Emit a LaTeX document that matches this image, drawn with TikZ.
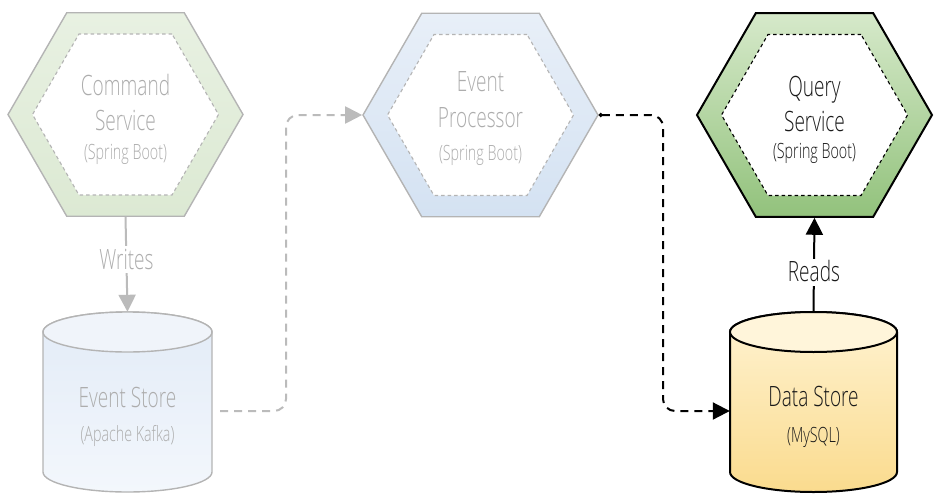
\documentclass[tikz,border=0pt]{standalone}
\usepackage{fontspec}
\IfFontExistsTF{Open Sans Light}{\setmainfont{Open Sans Light}[FakeStretch=0.68]}{\setmainfont{Open Sans}[FakeStretch=0.68]}
\usetikzlibrary{shapes.geometric,arrows.meta,calc}
\definecolor{lgray}{HTML}{B4B4B4}
\definecolor{tgray}{HTML}{ADADAD}
\definecolor{cgray}{HTML}{BBBBBB}
\definecolor{tblack}{HTML}{1A1A1A}
\begin{document}
\begin{tikzpicture}[x=1pt,y=1pt,
  hexout/.style={regular polygon, regular polygon sides=6, minimum size=235pt, inner sep=0pt, line width=1.4pt},
  hexin/.style={regular polygon, regular polygon sides=6, minimum size=186pt, inner sep=0pt, fill=white, dash pattern=on 3.5pt off 3pt, line width=1.1pt},
  big/.style={anchor=base, inner sep=0pt, font=\fontsize{28}{34}\selectfont},
  small/.style={anchor=base, inner sep=0pt, font=\fontsize{21}{25}\selectfont},
  dbbox/.style={draw=none, minimum width=169pt, minimum height=180pt, inner sep=0pt},
  tip/.style={-{Triangle[length=17pt,width=17pt]}},
  lbl/.style={fill=white, inner sep=2pt, font=\fontsize{28}{34}\selectfont, text height=21pt, text depth=2pt}
]
\useasboundingbox (0,0) rectangle (939,-503);

% ---------- hexagons ----------
\node[hexout, draw=lgray, top color={rgb,255:red,232;green,241;blue,226}, bottom color={rgb,255:red,220;green,233;blue,211}] (cs) at (125.5,-114.5) {};
\node[hexin, draw=lgray] (csi) at (cs.center) {};
\node[big, text=tgray] (cs1) at (125.5,-95) {Command};
\node[big, text=tgray] (cs2) at (125.5,-130) {Service};
\node[small, text=tgray] (cs3) at (125.5,-159) {(Spring Boot)};

\node[hexout, draw=lgray, top color={rgb,255:red,232;green,239;blue,248}, bottom color={rgb,255:red,212;green,226;blue,242}] (ep) at (480.5,-115) {};
\node[hexin, draw=lgray] (epi) at (ep.center) {};
\node[big, text=tgray] (ep1) at (480.5,-92) {Event};
\node[big, text=tgray] (ep2) at (480.5,-127) {Processor};
\node[small, text=tgray] (ep3) at (480.5,-160) {(Spring Boot)};

\node[hexout, draw=black, line width=2pt, top color={rgb,255:red,214;green,233;blue,202}, bottom color={rgb,255:red,146;green,194;blue,124}] (qs) at (814.5,-115) {};
\node[hexin, draw=black] (qsi) at (qs.center) {};
\node[big, text=tblack] (qs1) at (814.5,-96) {Query};
\node[big, text=tblack] (qs2) at (814.5,-131) {Service};
\node[small, text=tblack] (qs3) at (814.5,-158) {(Spring Boot)};

% ---------- cylinders ----------
\node[dbbox] (es) at (127.5,-402) {};
\path[top color={rgb,255:red,226;green,235;blue,247}, bottom color={rgb,255:red,243;green,247;blue,252}, draw=lgray, line width=1.4pt]
  (43,-332) -- (43,-472) arc[start angle=180, end angle=360, x radius=84.5pt, y radius=20pt]
  -- (212,-332) arc[start angle=0, end angle=180, x radius=84.5pt, y radius=20pt] -- cycle;
\path[fill={rgb,255:red,240;green,244;blue,250}, draw=lgray, line width=1.4pt] (127.5,-332) ellipse[x radius=84.5pt, y radius=20pt];
\node[big, text=tgray] (es1) at (127.5,-407) {Event Store};
\node[small, text=tgray] (es2) at (127.5,-441) {(Apache Kafka)};

\node[dbbox, minimum width=167pt] (ds) at (813.5,-402) {};
\path[top color={rgb,255:red,255;green,243;blue,210}, bottom color={rgb,255:red,250;green,219;blue,142}, draw=black, line width=2pt]
  (730,-332) -- (730,-472) arc[start angle=180, end angle=360, x radius=83.5pt, y radius=20pt]
  -- (897,-332) arc[start angle=0, end angle=180, x radius=83.5pt, y radius=20pt] -- cycle;
\path[fill={rgb,255:red,255;green,245;blue,218}, draw=black, line width=2pt] (813.5,-332) ellipse[x radius=83.5pt, y radius=20pt];
\node[big, text=tblack] (ds1) at (813.5,-406) {Data Store};
\node[small, text=tblack] (ds2) at (813.5,-442) {(MySQL)};

% ---------- connectors ----------
\draw[tip, draw=cgray, line width=2pt] (cs.south) -- node[lbl, text=tgray, pos=0.45] (wr) {Writes} (es.north);
\draw[tip, draw=black, line width=2pt] (ds.north) -- node[lbl, text=tblack, pos=0.42] (rd) {Reads} (qs.south);

\coordinate (c1) at (286,-115);
\draw[tip, draw=cgray, line width=2pt, dash pattern=on 8pt off 6pt, rounded corners=12pt]
  ([shift={(8pt,-9pt)}]es.east) -| (c1) -- (ep.west);

\coordinate (c2) at (663,-411);
\draw[{Circle[length=4pt]}-{Triangle[length=17pt,width=17pt]}, draw=black, line width=2pt, dash pattern=on 8pt off 6pt, rounded corners=12pt]
  (ep.east) -| (c2) -- ([yshift=-9pt]ds.west);
\end{tikzpicture}
\end{document}
